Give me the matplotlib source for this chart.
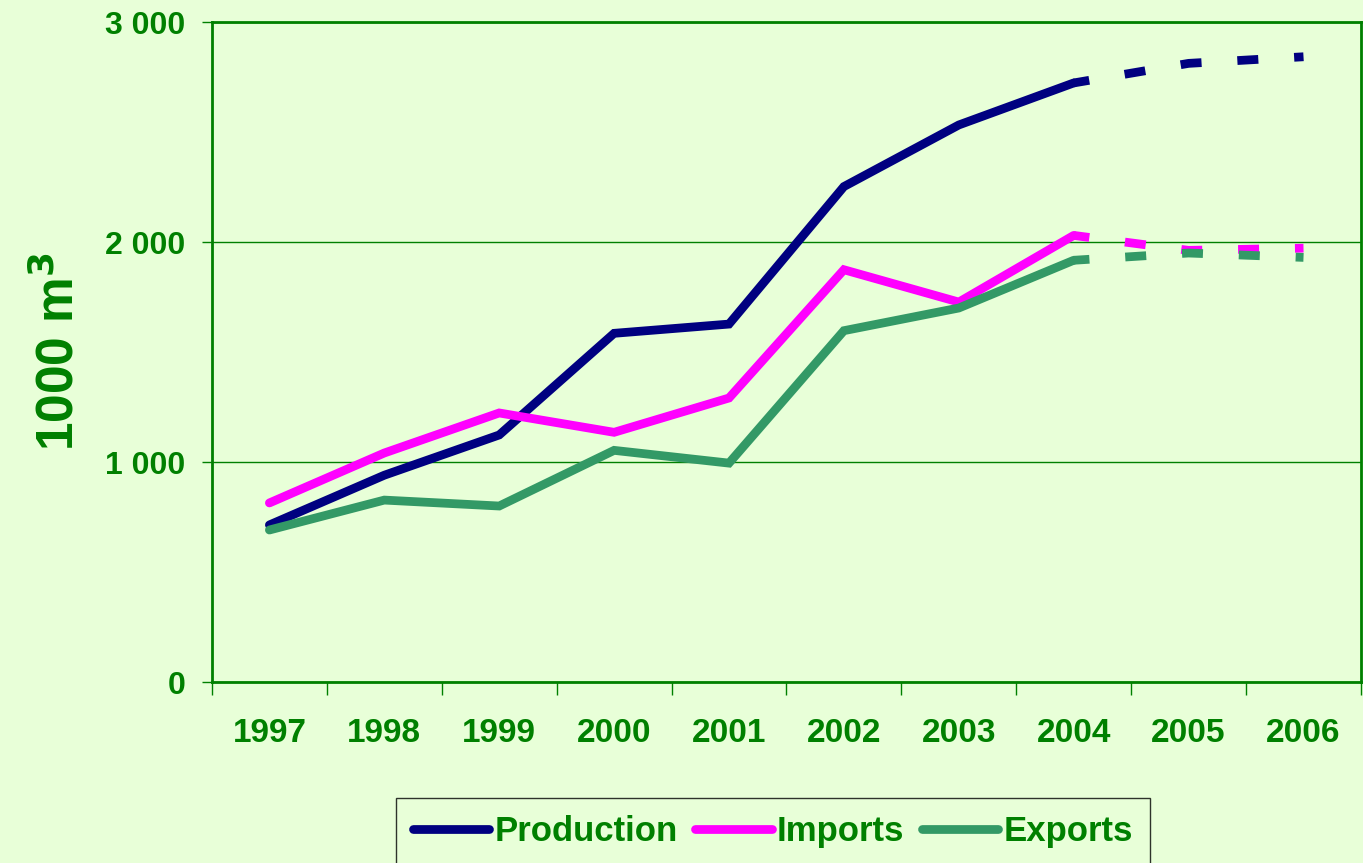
import matplotlib
matplotlib.use("Agg")
import matplotlib.pyplot as plt
from matplotlib.ticker import FuncFormatter, FixedLocator
from matplotlib.lines import Line2D

years = ["1997", "1998", "1999", "2000", "2001", "2002", "2003", "2004", "2005", "2006"]
production = [714, 940, 1123, 1585, 1627, 2252, 2532, 2723, 2812, 2842]
imports = [814, 1041, 1223, 1135, 1291, 1874, 1727, 2030, 1962, 1972]
exports = [691, 827, 800, 1053, 995, 1597, 1700, 1917, 1950, 1930]
n_actual = 8  # 1997-2004 solid, forecast dashed after

bg = "#E8FFD8"
green = "#008000"
colors = {"Production": "#000080", "Imports": "#FF00FF", "Exports": "#339966"}

plt.rcParams["font.family"] = ["Liberation Sans", "DejaVu Sans"]

fig = plt.figure(figsize=(13.63, 8.63), dpi=100, facecolor=bg)
ax = fig.add_axes([0.1555, 0.2097, 0.843, 0.7648], facecolor=bg)

x = list(range(len(years)))
series = [("Production", production), ("Imports", imports), ("Exports", exports)]
for name, vals in series:
    c = colors[name]
    ax.plot(x[:n_actual], vals[:n_actual], color=c, lw=6.3, solid_capstyle="round",
            solid_joinstyle="miter", zorder=3)
    ax.plot(x[n_actual - 1:], vals[n_actual - 1:], color=c, lw=6.3,
            linestyle=(0.6, (2.4, 4.1)), dash_capstyle="butt", zorder=3)

ax.set_xlim(-0.5, len(years) - 0.5)
ax.set_ylim(0, 3000)
ax.set_yticks([0, 1000, 2000, 3000])
ax.yaxis.set_major_formatter(FuncFormatter(lambda v, p: f"{int(v):,}".replace(",", " ")))
ax.grid(axis="y", color=green, lw=1)
ax.set_axisbelow(True)

ax.xaxis.set_major_locator(FixedLocator([i - 0.5 for i in range(len(years) + 1)]))
ax.xaxis.set_minor_locator(FixedLocator(x))
ax.set_xticklabels([])
ax.set_xticklabels(years, minor=True)
ax.tick_params(axis="x", which="major", length=9, width=1, color=green, direction="out")
ax.tick_params(axis="x", which="minor", length=0, pad=26, labelsize=24, labelcolor=green)
ax.tick_params(axis="y", length=7, width=1, color=green, direction="out", pad=12,
               labelsize=23, labelcolor=green)
for lab in ax.get_xticklabels(minor=True) + ax.get_yticklabels():
    lab.set_fontweight("bold")

for sp in ax.spines.values():
    sp.set_color(green)
    sp.set_linewidth(2)

ax.set_ylabel("1000 m$^\\mathbf{3}$", fontsize=37, fontweight="bold", color=green, labelpad=15)

handles = [Line2D([0], [0], color=colors[n], lw=6.3, solid_capstyle="round") for n, _ in series]
leg = fig.legend(handles, [n for n, _ in series], loc="upper center",
                 bbox_to_anchor=(0.567, 1 - 798 / 863), borderaxespad=0, ncol=3,
                 frameon=True, fancybox=False, handlelength=2.2, handletextpad=0.15,
                 columnspacing=0.5, borderpad=0.5,
                 prop={"weight": "bold", "size": 25})
leg.get_frame().set_edgecolor("black")
leg.get_frame().set_linewidth(1)
leg.get_frame().set_facecolor(bg)
for t in leg.get_texts():
    t.set_color(green)

fig.savefig("out.png", dpi=100, facecolor=bg)
